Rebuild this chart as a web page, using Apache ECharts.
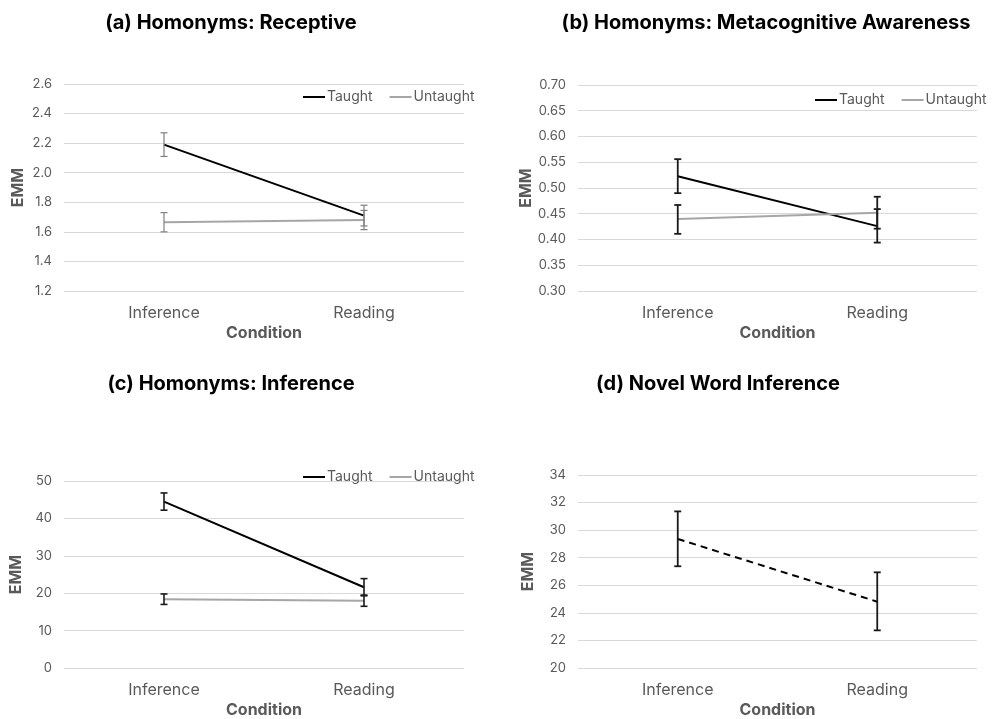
<!DOCTYPE html>
<html>
<head>
<meta charset="utf-8">
<script src="https://cdn.jsdelivr.net/npm/echarts@6/dist/echarts.min.js"></script>
<style>html,body{margin:0;padding:0;background:#fff;}#c{width:993px;height:719px;}</style>
</head>
<body>
<div id="c"></div>
<script>
// ---- data ----
var categories = ['Inference', 'Reading'];

var aTaught = [2.19, 1.71];
var aTaughtLow = [2.11, 1.64];
var aTaughtHigh = [2.27, 1.78];
var aUntaught = [1.665, 1.68];
var aUntaughtLow = [1.60, 1.615];
var aUntaughtHigh = [1.73, 1.745];

var bTaught = [0.523, 0.426];
var bTaughtLow = [0.490, 0.394];
var bTaughtHigh = [0.556, 0.459];
var bUntaught = [0.440, 0.452];
var bUntaughtLow = [0.411, 0.421];
var bUntaughtHigh = [0.467, 0.483];

var cTaught = [44.5, 21.6];
var cTaughtLow = [42.2, 19.3];
var cTaughtHigh = [46.8, 23.9];
var cUntaught = [18.4, 18.0];
var cUntaughtLow = [17.0, 16.5];
var cUntaughtHigh = [19.8, 19.5];

var dNovel = [29.36, 24.81];
var dNovelLow = [27.38, 22.73];
var dNovelHigh = [31.36, 26.94];

var titles = ['(a) Homonyms: Receptive', '(b) Homonyms: Metacognitive Awareness', '(c) Homonyms: Inference', '(d) Novel Word Inference'];

// ---- chart ----
var FONT = 'Inter';
var LABEL = '#595959';
var BLACK = '#000000';
var GREY = '#a6a6a6';

function errData(low, high) {
  return categories.map(function (c, i) { return [i, low[i], high[i]]; });
}
function errSeries(idx, low, high, color, width) {
  return {
    type: 'custom', name: 'err', xAxisIndex: idx, yAxisIndex: idx, z: 5,
    data: errData(low, high),
    renderItem: function (params, api) {
      var p1 = api.coord([api.value(0), api.value(1)]);
      var p2 = api.coord([api.value(0), api.value(2)]);
      var w = 3.5;
      var st = { stroke: color, lineWidth: width };
      return { type: 'group', children: [
        { type: 'line', shape: { x1: p1[0], y1: p1[1], x2: p2[0], y2: p2[1] }, style: st },
        { type: 'line', shape: { x1: p1[0] - w, y1: p1[1], x2: p1[0] + w, y2: p1[1] }, style: st },
        { type: 'line', shape: { x1: p2[0] - w, y1: p2[1], x2: p2[0] + w, y2: p2[1] }, style: st }
      ]};
    }
  };
}
function lineSeries(idx, name, data, color, dashed) {
  return {
    type: 'line', name: name, xAxisIndex: idx, yAxisIndex: idx, data: data,
    symbol: 'none', z: 4,
    lineStyle: { color: color, width: 2, type: dashed ? [7, 5] : 'solid' },
    itemStyle: { color: color }
  };
}

var grids = [
  { left: 64, top: 84, width: 400, height: 207 },
  { left: 578, top: 85, width: 399, height: 206 },
  { left: 64, top: 481, width: 400, height: 187 },
  { left: 578, top: 475, width: 399, height: 193 }
];
var yCfg = [
  { min: 1.2, max: 2.6, interval: 0.2, dec: 1, gap: 38 },
  { min: 0.3, max: 0.7, interval: 0.05, dec: 2, gap: 42 },
  { min: 0, max: 50, interval: 10, dec: 0, gap: 40 },
  { min: 20, max: 34, interval: 2, dec: 0, gap: 42 }
];

var option = {
  animation: false,
  backgroundColor: '#ffffff',
  title: [
    { text: titles[0], left: 226, top: 8 },
    { text: titles[1], left: 761, top: 8 },
    { text: titles[2], left: 226, top: 369 },
    { text: titles[3], left: 713, top: 369 }
  ].map(function (t) {
    t.textAlign = 'center';
    t.textStyle = { fontFamily: FONT, fontWeight: 'bold', fontSize: 20, color: '#000' };
    return t;
  }),
  legend: [
    { left: 303, top: 90 },
    { left: 815, top: 93 },
    { left: 303, top: 470 }
  ].map(function (l) {
    l.data = ['Taught', 'Untaught'];
    l.orient = 'horizontal';
    l.width = 300;
    l.padding = 0;
    l.icon = 'path://M0,0H22V2H0Z';
    l.itemWidth = 22; l.itemHeight = 2; l.itemGap = 17;
    l.textStyle = { fontFamily: FONT, fontSize: 14, color: LABEL, padding: [0, 0, 0, -3] };
    l.selectedMode = false;
    return l;
  }),
  grid: grids,
  xAxis: grids.map(function (g, i) {
    return {
      type: 'category', gridIndex: i, data: categories, boundaryGap: true,
      axisLine: { show: false }, axisTick: { show: false },
      axisLabel: { fontFamily: FONT, fontSize: 16, color: LABEL, margin: 14 },
      name: 'Condition', nameLocation: 'middle', nameGap: 34,
      nameTextStyle: { fontFamily: FONT, fontWeight: 'bold', fontSize: 16, color: LABEL }
    };
  }),
  yAxis: yCfg.map(function (y, i) {
    return {
      type: 'value', gridIndex: i, min: y.min, max: y.max, interval: y.interval,
      axisLine: { show: false }, axisTick: { show: false },
      splitLine: { lineStyle: { color: '#d9d9d9', width: 1 } },
      axisLabel: { fontFamily: FONT, fontSize: 13, color: LABEL, margin: 12,
        formatter: function (v) { return v.toFixed(y.dec); } },
      name: 'EMM', nameLocation: 'middle', nameGap: y.gap, nameRotate: 90,
      nameTextStyle: { fontFamily: FONT, fontWeight: 'bold', fontSize: 16, color: LABEL }
    };
  }),
  series: [
    lineSeries(0, 'Taught', aTaught, BLACK),
    lineSeries(0, 'Untaught', aUntaught, GREY),
    errSeries(0, aTaughtLow, aTaughtHigh, '#7f7f7f', 1.2),
    errSeries(0, aUntaughtLow, aUntaughtHigh, '#7f7f7f', 1.2),

    lineSeries(1, 'Taught', bTaught, BLACK),
    lineSeries(1, 'Untaught', bUntaught, GREY),
    errSeries(1, bTaughtLow, bTaughtHigh, '#1a1a1a', 1.8),
    errSeries(1, bUntaughtLow, bUntaughtHigh, '#1a1a1a', 1.8),

    lineSeries(2, 'Taught', cTaught, BLACK),
    lineSeries(2, 'Untaught', cUntaught, GREY),
    errSeries(2, cTaughtLow, cTaughtHigh, '#1a1a1a', 1.6),
    errSeries(2, cUntaughtLow, cUntaughtHigh, '#1a1a1a', 1.6),

    lineSeries(3, 'Novel', dNovel, BLACK, true),
    errSeries(3, dNovelLow, dNovelHigh, '#1a1a1a', 1.8)
  ]
};

var chart = echarts.init(document.getElementById('c'), null, { renderer: 'canvas' });
chart.setOption(option);
</script>
</body>
</html>
